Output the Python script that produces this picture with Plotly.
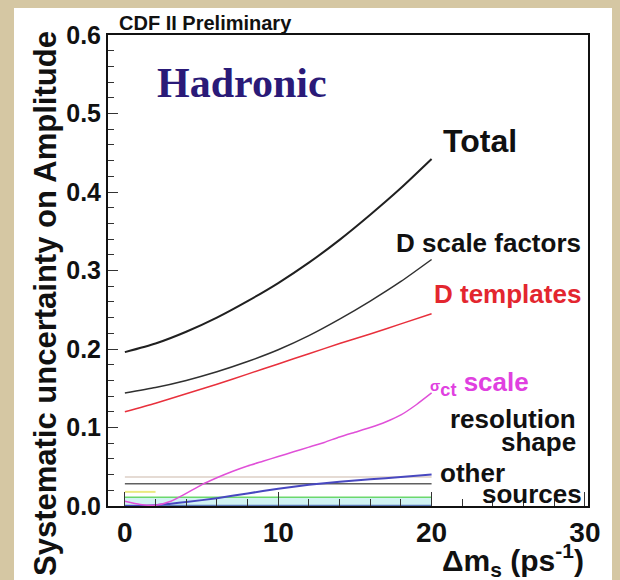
import plotly.graph_objects as go

# ---------------- data ----------------
x_total = [0, 2, 4, 6, 8, 10, 12, 14, 16, 18, 20]
total = [0.196, 0.207, 0.222, 0.240, 0.261, 0.284, 0.310, 0.339, 0.371, 0.405, 0.442]
d_scale = [0.144, 0.151, 0.160, 0.171, 0.184, 0.199, 0.217, 0.238, 0.261, 0.286, 0.314]
d_templ = [0.120, 0.131, 0.143, 0.155, 0.168, 0.181, 0.194, 0.207, 0.219, 0.232, 0.245]

x_sigma = [0, 1, 2, 3, 4, 5, 6, 7, 8, 9, 10, 11, 12, 13, 14, 15, 16, 17, 18, 19, 20]
sigma_ct = [0.006, 0.002, 0.001, 0.006, 0.016, 0.027, 0.036, 0.044, 0.051, 0.057, 0.063,
            0.069, 0.075, 0.081, 0.088, 0.094, 0.100, 0.107, 0.116, 0.129, 0.144]

x_other = [0, 1, 2, 3, 4, 6, 8, 10, 12, 14, 16, 18, 20]
other = [0.000, 0.000, 0.001, 0.003, 0.005, 0.010, 0.016, 0.022, 0.027, 0.031, 0.034, 0.037, 0.040]

x_flat = [0, 20]
light_flat = [0.037, 0.037]
resol_flat = [0.0285, 0.0285]
green_flat = [0.011, 0.011]
x_yellow = [0, 2]
yellow_flat = [0.018, 0.018]
zero_flat = [0.0005, 0.0005]

x_ticks = [0, 10, 20, 30]
y_ticks = [0.0, 0.1, 0.2, 0.3, 0.4, 0.5, 0.6]

# ---------------- layout geometry ----------------
W, H = 620, 580
L, R, T, B = 108, 588, 35, 506
pw, ph = R - L, B - T


def px(xp):
    return (xp - L) / pw


def py(yp):
    return (B - yp) / ph


fig = go.Figure()

fig.add_trace(go.Scatter(x=x_flat, y=green_flat, mode="lines",
                         line=dict(color="#6cd86c", width=1.5),
                         fill="tozeroy", fillcolor="rgba(190,238,238,0.7)"))
fig.add_trace(go.Scatter(x=x_flat, y=zero_flat, mode="lines",
                         line=dict(color="#5a78b8", width=1.5)))
fig.add_trace(go.Scatter(x=x_yellow, y=yellow_flat, mode="lines",
                         line=dict(color="#eaea80", width=2)))
fig.add_trace(go.Scatter(x=x_flat, y=light_flat, mode="lines",
                         line=dict(color="#dccfc6", width=1.5)))
fig.add_trace(go.Scatter(x=x_flat, y=resol_flat, mode="lines",
                         line=dict(color="#606060", width=1.5)))
fig.add_trace(go.Scatter(x=x_other, y=other, mode="lines", line_shape="spline",
                         line=dict(color="#4848c0", width=2, smoothing=0.6)))
fig.add_trace(go.Scatter(x=x_sigma, y=sigma_ct, mode="lines", line_shape="spline",
                         line=dict(color="#e050d8", width=1.5, smoothing=0.6)))
fig.add_trace(go.Scatter(x=x_total, y=d_templ, mode="lines", line_shape="spline",
                         line=dict(color="#e8303c", width=1.5, smoothing=0.6)))
fig.add_trace(go.Scatter(x=x_total, y=d_scale, mode="lines", line_shape="spline",
                         line=dict(color="#303030", width=1.5, smoothing=0.6)))
fig.add_trace(go.Scatter(x=x_total, y=total, mode="lines", line_shape="spline",
                         line=dict(color="#202020", width=2, smoothing=0.6)))

bold = "Liberation Sans, Arial, sans-serif"


def ann(text, xp, yp, size, color="#111111", xanchor="left", family=bold, angle=0):
    fig.add_annotation(text=text, xref="paper", yref="paper", x=px(xp), y=py(yp),
                       xanchor=xanchor, yanchor="middle", showarrow=False,
                       textangle=angle,
                       font=dict(family=family, size=size, color=color, weight="bold"))


ann("CDF II Preliminary", 117, 23, 20)
ann("Hadronic", 155, 83, 42, color="#2a1a78", family="Liberation Serif, Times New Roman, serif")
ann("Total", 441, 141, 32)
ann("D scale factors", 583, 243, 26, xanchor="right")
ann("D templates", 583, 294, 26, color="#e3262f", xanchor="right")
ann("<span style='font-size:15px'>σ</span><sub>ct</sub> scale", 428, 383, 26,
    color="#e040e0")
ann("resolution", 578, 419, 26, xanchor="right")
ann("shape", 578, 442, 26, xanchor="right")
ann("other", 438, 473, 26)
ann("sources", 584, 494, 26, xanchor="right")
ann("Δm<sub>s</sub> (ps<sup>-1</sup>)", 586, 560, 30, xanchor="right")
ann("Systematic uncertainty on Amplitude", 45, 304, 31, xanchor="center", angle=-90)

# white panel over tan background
fig.add_shape(type="rect", xref="paper", yref="paper", layer="below",
              x0=px(14), x1=px(612), y0=py(580), y1=py(8),
              fillcolor="white", line=dict(width=0))

fig.update_layout(
    width=W, height=H,
    margin=dict(l=L, r=W - R, t=T, b=H - B),
    paper_bgcolor="#d5c7a3",
    plot_bgcolor="white",
    showlegend=False,
)
fig.update_xaxes(range=[-1.1, 30.2], tickvals=x_ticks, ticktext=[str(v) for v in x_ticks],
                 ticks="inside", ticklen=14, tickwidth=1, tickcolor="#333333",
                 minor=dict(dtick=2, ticks="inside", ticklen=7, tickcolor="#333333"),
                 showgrid=False, zeroline=False,
                 showline=True, linecolor="#111111", linewidth=2, mirror=True,
                 tickfont=dict(family=bold, size=28, color="#111111", weight="bold"))
fig.update_yaxes(range=[0, 0.6], tickvals=y_ticks, ticktext=[f"{v:.1f}" for v in y_ticks],
                 ticks="inside", ticklen=10, tickwidth=1, tickcolor="#333333",
                 minor=dict(dtick=0.02, ticks="inside", ticklen=6, tickcolor="#333333"),
                 showgrid=False, zeroline=False,
                 showline=True, linecolor="#111111", linewidth=2, mirror=True,
                 tickfont=dict(family=bold, size=25, color="#111111", weight="bold"))

fig.write_html("out.html")
